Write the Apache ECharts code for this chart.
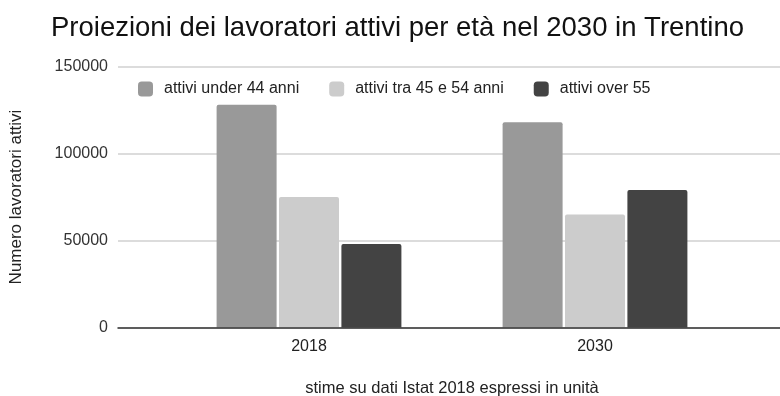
<!DOCTYPE html>
<html>
<head>
<meta charset="utf-8">
<script src="https://cdn.jsdelivr.net/npm/echarts@6/dist/echarts.min.js"></script>
<style>
  html, body { margin: 0; padding: 0; background: #ffffff; }
  #chart { width: 780px; height: 396px; }
</style>
</head>
<body>
<div id="chart"></div>
<script>
// Worker projections by age band (units)
const categories = ['2018', '2030'];
const seriesNames = ['attivi under 44 anni', 'attivi tra 45 e 54 anni', 'attivi over 55'];
const under44 = [128000, 118000];
const tra45e54 = [75000, 65000];
const over55 = [48000, 79000];
const yTicks = [0, 50000, 100000, 150000];

const colors = ['#999999', '#cccccc', '#434343'];
const font = 'Liberation Sans, Arial, sans-serif';

const chart = echarts.init(document.getElementById('chart'), null, { renderer: 'canvas' });

const yMin = yTicks[0];
const yMax = yTicks[yTicks.length - 1];
const yStep = yTicks[1] - yTicks[0];

const plotTop = 66.5;
const plotHeight = 261;

function bar(name, data, color) {
  return {
    name: name,
    type: 'bar',
    xAxisIndex: 1,
    yAxisIndex: 1,
    data: data,
    barWidth: 60,
    barGap: '4%',
    itemStyle: { color: color, borderRadius: [2, 2, 0, 0] },
    emphasis: { disabled: true }
  };
}

chart.setOption({
  animation: false,
  backgroundColor: '#ffffff',
  color: colors,
  title: {
    text: 'Proiezioni dei lavoratori attivi per età nel 2030 in Trentino',
    left: 46,
    top: 9,
    textStyle: { fontFamily: font, fontSize: 27.5, fontWeight: 'normal', color: '#111111' }
  },
  legend: {
    left: 133,
    top: 76,
    itemWidth: 15,
    itemHeight: 15,
    itemGap: 30,
    icon: 'roundRect',
    data: seriesNames,
    textStyle: { fontFamily: font, fontSize: 16, color: '#222222', padding: [0, 0, 0, 6] }
  },
  grid: [
    { left: 118, right: 0, top: plotTop, height: plotHeight, outerBoundsMode: 'none', containLabel: false },
    { left: 166, width: 572, top: plotTop, height: plotHeight, outerBoundsMode: 'none', containLabel: false }
  ],
  xAxis: [
    {
      gridIndex: 0,
      type: 'category',
      data: [''],
      axisLine: { show: true, lineStyle: { color: '#333333', width: 1.5 } },
      axisTick: { show: false },
      axisLabel: { show: false },
      z: 5
    },
    {
      gridIndex: 1,
      type: 'category',
      data: categories,
      axisLine: { show: false },
      axisTick: { show: false },
      axisLabel: { fontFamily: font, fontSize: 16, color: '#222222', margin: 11 },
      name: 'stime su dati Istat 2018 espressi in unità',
      nameLocation: 'middle',
      nameGap: 52,
      nameTextStyle: { fontFamily: font, fontSize: 16.5, color: '#222222' }
    }
  ],
  yAxis: [
    {
      gridIndex: 0,
      type: 'value',
      min: yMin,
      max: yMax,
      interval: yStep,
      axisLine: { show: false },
      axisTick: { show: false },
      axisLabel: { fontFamily: font, fontSize: 16, color: '#333333', margin: 10, formatter: v => String(v) },
      splitLine: { show: true, lineStyle: { color: '#d0d0d0', width: 1.5 } },
      name: 'Numero lavoratori attivi',
      nameLocation: 'middle',
      nameGap: 93,
      nameTextStyle: { fontFamily: font, fontSize: 17, color: '#222222' }
    },
    {
      gridIndex: 1,
      type: 'value',
      min: yMin,
      max: yMax,
      interval: yStep,
      show: false,
      splitLine: { show: false }
    }
  ],
  series: [
    bar(seriesNames[0], under44, colors[0]),
    bar(seriesNames[1], tra45e54, colors[1]),
    bar(seriesNames[2], over55, colors[2])
  ]
});
</script>
</body>
</html>
